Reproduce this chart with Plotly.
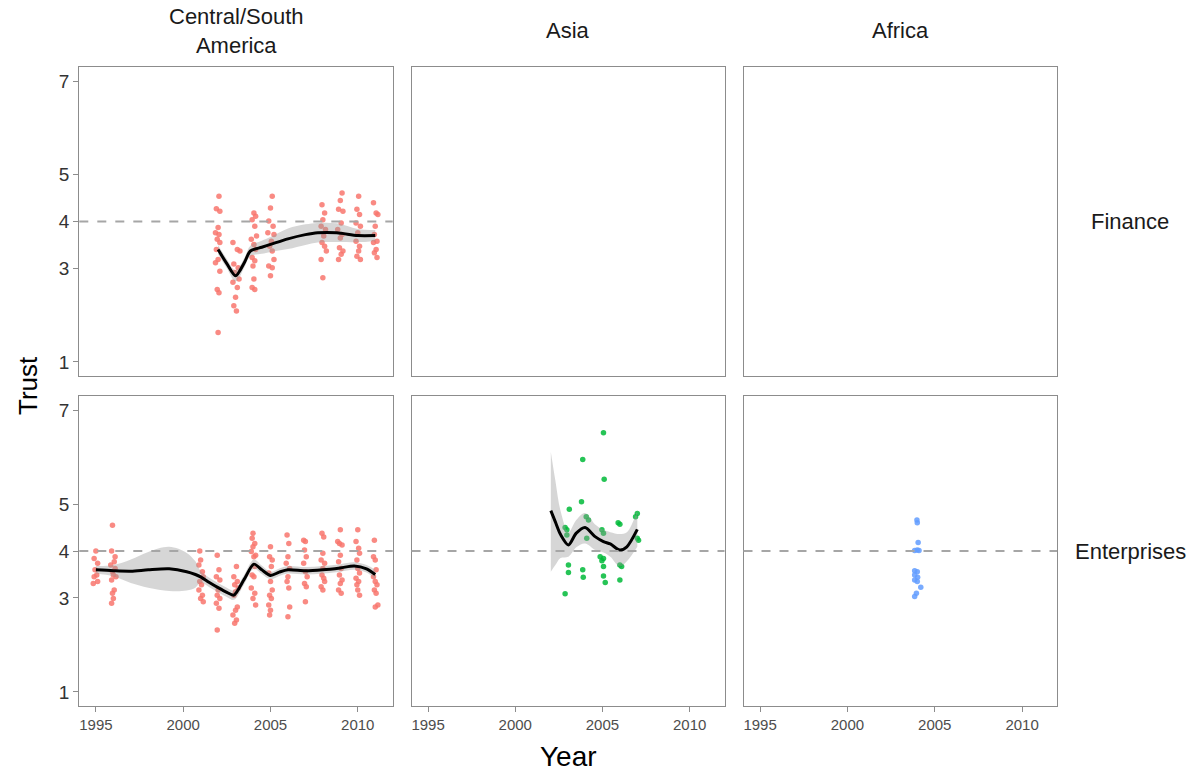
import plotly.graph_objects as go

# ---------------- data ----------------
regions = ["Central/South<br>America", "Asia", "Africa"]
sectors = ["Finance", "Enterprises"]
x_ticks = [1995, 2000, 2005, 2010]
y_ticks = [1, 3, 4, 5, 7]
reference_level = 4

# Finance, Central/South America
fin_csa_year = [2002.05, 2001.9, 2002.1, 2002.0, 2001.85, 2002.05, 2001.95, 2002.1, 2001.9, 2002.0, 2001.85, 2002.1, 2001.95, 2002.05, 2002.0,
                2002.85, 2003.1, 2003.25, 2002.9, 2003.15, 2002.95, 2003.2, 2002.85, 2003.1, 2003.0, 2002.9, 2003.05,
                2004.05, 2004.15, 2003.95, 2004.1, 2004.2, 2003.9, 2004.05, 2004.15, 2003.95, 2004.1, 2004.0, 2004.05, 2003.95, 2004.1,
                2005.1, 2005.0, 2004.9, 2005.15, 2004.85, 2005.2, 2005.05, 2004.95, 2005.1, 2005.2, 2004.9, 2005.1, 2005.0,
                2007.95, 2008.1, 2008.0, 2007.9, 2008.15, 2008.05, 2007.95, 2008.1, 2008.2, 2007.9, 2008.0,
                2009.1, 2009.0, 2008.9, 2009.15, 2009.05, 2008.85, 2009.1, 2009.0, 2008.95, 2009.15, 2009.05, 2008.9,
                2010.05, 2009.95, 2010.1, 2009.9, 2010.15, 2010.0, 2009.9, 2010.1, 2010.05, 2009.95, 2010.15,
                2010.9, 2011.05, 2011.15, 2011.0, 2010.95, 2011.1, 2010.9, 2011.05, 2010.95, 2011.1]
fin_csa_trust = [4.54, 4.27, 4.22, 3.87, 3.76, 3.72, 3.62, 3.55, 3.40, 3.19, 3.12, 2.94, 2.55, 2.48, 1.63,
                 3.55, 3.40, 3.37, 3.09, 3.01, 2.91, 2.77, 2.70, 2.59, 2.38, 2.20, 2.09,
                 4.18, 4.11, 4.04, 3.90, 3.69, 3.62, 3.51, 3.40, 3.23, 3.16, 3.05, 2.77, 2.59, 2.55,
                 4.54, 4.29, 4.01, 3.90, 3.76, 3.72, 3.58, 3.47, 3.37, 3.19, 3.05, 3.01, 2.84,
                 4.36, 4.18, 4.04, 3.90, 3.83, 3.69, 3.55, 3.47, 3.37, 3.19, 2.80,
                 4.61, 4.45, 4.26, 4.22, 3.97, 3.83, 3.72, 3.65, 3.44, 3.37, 3.30, 3.19,
                 4.54, 4.26, 4.15, 3.97, 3.90, 3.76, 3.58, 3.47, 3.37, 3.26, 3.19,
                 4.40, 4.18, 4.15, 3.90, 3.72, 3.58, 3.55, 3.40, 3.33, 3.23]

# Enterprises, Central/South America
ent_csa_year = [1995.0, 1994.9, 1995.1, 1994.95, 1995.05, 1994.9, 1995.1, 1994.85,
                1995.95, 1995.9, 1996.1, 1996.05, 1995.85, 1996.1, 1995.95, 1996.0, 1996.15, 1995.9, 1996.05, 1995.95, 1996.0, 1995.9,
                2000.95, 2001.0, 2000.9, 2001.1, 2001.15, 2000.95, 2001.05, 2000.9, 2001.1, 2001.0, 2001.15,
                2001.95, 2002.05, 2001.9, 2002.1, 2002.0, 2001.95, 2002.1, 2001.9, 2002.05, 2001.95,
                2003.05, 2002.9, 2003.1, 2002.95, 2003.15, 2003.0, 2002.9, 2003.1, 2003.0, 2002.85, 2003.05, 2002.95,
                2004.0, 2003.95, 2004.1, 2004.0, 2003.9, 2004.15, 2004.05, 2004.1, 2003.95, 2004.05, 2003.9, 2004.1, 2004.0, 2004.15,
                2005.0, 2004.95, 2005.1, 2005.05, 2004.9, 2005.0, 2005.1, 2004.95, 2005.05, 2004.9, 2005.0, 2004.95,
                2005.95, 2006.05, 2006.0, 2005.9, 2006.1, 2006.0, 2005.95, 2006.05, 2006.1, 2006.0,
                2006.9, 2007.0, 2006.95, 2007.05, 2006.9, 2007.0, 2007.1, 2006.95, 2007.05, 2007.0,
                2007.95, 2008.05, 2008.0, 2007.9, 2008.1, 2008.0, 2007.95, 2008.05, 2008.1, 2007.9, 2008.0,
                2009.0, 2008.85, 2008.95, 2009.1, 2009.0, 2008.9, 2009.05, 2008.95, 2009.1, 2009.0, 2008.9, 2009.05,
                2010.0, 2009.9, 2010.05, 2010.1, 2009.95, 2010.0, 2010.1, 2009.9, 2010.05, 2009.95, 2010.0, 2010.1,
                2010.95, 2010.9, 2011.0, 2011.05, 2010.9, 2011.0, 2011.1, 2010.95, 2011.05, 2011.15, 2011.0]
ent_csa_trust = [4.0, 3.84, 3.74, 3.60, 3.49, 3.45, 3.35, 3.31,
                 4.55, 4.0, 3.88, 3.77, 3.70, 3.63, 3.56, 3.49, 3.45, 3.38, 3.17, 3.10, 2.99, 2.89,
                 4.0, 3.81, 3.70, 3.56, 3.45, 3.35, 3.28, 3.17, 3.06, 2.99, 2.92,
                 3.91, 3.60, 3.45, 3.38, 3.17, 3.06, 2.99, 2.89, 2.78, 2.32,
                 3.67, 3.45, 3.35, 3.28, 3.21, 3.13, 3.06, 2.81, 2.74, 2.64, 2.53, 2.46,
                 4.38, 4.27, 4.16, 4.09, 3.99, 3.91, 3.88, 3.67, 3.49, 3.45, 3.21, 3.10, 2.99, 2.85,
                 4.09, 3.88, 3.81, 3.67, 3.53, 3.35, 3.17, 3.06, 2.99, 2.85, 2.74, 2.64,
                 4.34, 4.16, 3.88, 3.74, 3.63, 3.45, 3.35, 3.21, 2.81, 2.60,
                 4.23, 4.20, 4.02, 3.88, 3.74, 3.56, 3.45, 3.31, 3.24, 2.92,
                 4.38, 4.30, 3.95, 3.81, 3.74, 3.63, 3.49, 3.42, 3.35, 3.24, 3.17,
                 4.45, 4.20, 4.16, 4.13, 3.91, 3.77, 3.63, 3.49, 3.38, 3.31, 3.17, 3.10,
                 4.45, 4.20, 4.06, 3.95, 3.81, 3.63, 3.53, 3.42, 3.35, 3.28, 3.17, 3.06,
                 4.23, 3.88, 3.81, 3.60, 3.45, 3.35, 3.28, 3.17, 3.10, 2.85, 2.81]

# Enterprises, Asia
ent_asia_year = [2005.06, 2003.87, 2005.1, 2003.8, 2003.1, 2007.0, 2006.9, 2004.07, 2004.2, 2005.9, 2006.0,
                 2002.86, 2002.96, 2004.97, 2005.06, 2002.96, 2004.1, 2007.0, 2007.07, 2004.87, 2005.06,
                 2004.97, 2006.0, 2006.1, 2003.05, 2005.06, 2003.05, 2003.87, 2003.9, 2005.06, 2005.16, 2006.0, 2002.86]
ent_asia_trust = [6.52, 5.95, 5.53, 5.05, 4.89, 4.80, 4.73, 4.73, 4.66, 4.60, 4.57,
                  4.50, 4.45, 4.45, 4.38, 4.34, 4.27, 4.27, 4.23, 3.88, 3.84,
                  3.79, 3.70, 3.67, 3.70, 3.67, 3.54, 3.60, 3.44, 3.47, 3.33, 3.38, 3.09]

# Enterprises, Africa
ent_africa_year = [2003.98, 2004.0, 2004.05, 2003.85, 2004.0, 2004.1, 2003.85, 2004.0, 2003.85, 2004.02, 2003.85, 2004.0, 2004.2, 2003.95, 2003.85]
ent_africa_trust = [4.66, 4.60, 4.18, 4.01, 4.02, 4.01, 3.58, 3.56, 3.49, 3.44, 3.38, 3.35, 3.23, 3.10, 3.03]

# Smoothed trends (loess) with confidence band
fin_csa_fit_year = [2002.0, 2002.5, 2003.0, 2003.5, 2003.85, 2004.5, 2005.0, 2006.0, 2007.0, 2007.7, 2008.8, 2010.0, 2011.0]
fin_csa_fit = [3.40, 3.10, 2.84, 3.12, 3.37, 3.45, 3.51, 3.63, 3.72, 3.76, 3.76, 3.70, 3.70]
fin_csa_lo = [3.30, 3.00, 2.72, 3.02, 3.26, 3.31, 3.35, 3.41, 3.50, 3.55, 3.56, 3.56, 3.58]
fin_csa_hi = [3.50, 3.20, 2.96, 3.22, 3.48, 3.59, 3.67, 3.85, 3.94, 3.97, 3.96, 3.84, 3.82]

ent_csa_fit_year = [1995.0, 1996.0, 1997.0, 1998.0, 1999.2, 2000.2, 2000.7, 2001.0, 2001.5, 2002.0, 2002.5, 2002.9,
                    2003.5, 2004.05, 2004.5, 2005.0, 2005.5, 2006.0, 2007.0, 2008.0, 2009.0, 2009.8, 2010.5, 2011.0]
ent_csa_fit = [3.60, 3.58, 3.57, 3.60, 3.62, 3.56, 3.50, 3.45, 3.33, 3.22, 3.12, 3.06,
               3.40, 3.72, 3.60, 3.48, 3.55, 3.60, 3.58, 3.60, 3.64, 3.68, 3.62, 3.50]
ent_csa_lo = [3.52, 3.46, 3.32, 3.22, 3.15, 3.16, 3.22, 3.33, 3.23, 3.12, 3.02, 2.96,
              3.30, 3.62, 3.51, 3.40, 3.47, 3.52, 3.50, 3.52, 3.56, 3.60, 3.54, 3.40]
ent_csa_hi = [3.68, 3.70, 3.82, 3.98, 4.09, 3.96, 3.78, 3.57, 3.43, 3.32, 3.22, 3.16,
              3.50, 3.82, 3.69, 3.56, 3.63, 3.68, 3.66, 3.68, 3.72, 3.76, 3.70, 3.60]

ent_asia_fit_year = [2002.04, 2002.3, 2002.6, 2003.05, 2003.5, 2004.0, 2004.6, 2005.06, 2005.45, 2006.0, 2006.4, 2007.0]
ent_asia_fit = [4.86, 4.62, 4.35, 4.13, 4.38, 4.50, 4.30, 4.20, 4.15, 4.02, 4.09, 4.46]
ent_asia_lo = [3.56, 3.70, 3.85, 3.88, 4.08, 4.16, 4.02, 3.97, 3.88, 3.67, 3.78, 4.09]
ent_asia_hi = [6.11, 5.50, 4.85, 4.40, 4.66, 4.81, 4.56, 4.45, 4.40, 4.36, 4.40, 4.87]

# ---------------- figure ----------------
W, H = 1191, 771
col_px = [(79.3, 392.7), (411.5, 724.5), (743.5, 1057.0)]
row_px = [(67, 376), (396, 706)]
x_range = [1994.05, 2012.0]
y_range = [0.7, 7.3]

FONT = "Liberation Sans, Arial, Helvetica, sans-serif"
red, green, blue = "#F8766D", "#00BA38", "#619CFF"
border = "#8C8C8C"

fig = go.Figure()
layout = dict(width=W, height=H, margin=dict(l=0, r=0, t=0, b=0),
              paper_bgcolor="white", plot_bgcolor="white", showlegend=False,
              font=dict(family=FONT, color="#1A1A1A"))

def ax_id(r, c):
    return r * 3 + c + 1

for r in range(2):
    for c in range(3):
        i = ax_id(r, c)
        sx = "" if i == 1 else str(i)
        x0, x1 = col_px[c]
        y0, y1 = row_px[r]
        layout["xaxis" + sx] = dict(
            domain=[x0 / W, x1 / W], anchor="y" + sx, range=x_range,
            showgrid=False, zeroline=False, showline=True, mirror=True,
            linecolor=border, linewidth=1.2, tickvals=x_ticks,
            ticks="outside" if r == 1 else "", ticklen=5, tickwidth=1.2, tickcolor=border,
            showticklabels=(r == 1), tickfont=dict(size=15, color="#4D4D4D", family=FONT))
        layout["yaxis" + sx] = dict(
            domain=[1 - y1 / H, 1 - y0 / H], anchor="x" + sx, range=y_range,
            showgrid=False, zeroline=False, showline=True, mirror=True,
            linecolor=border, linewidth=1.2, tickvals=y_ticks,
            ticks="outside" if c == 0 else "", ticklen=5, tickwidth=1.2, tickcolor=border,
            showticklabels=(c == 0), tickfont=dict(size=19, color="#333333", family=FONT))

fig.update_layout(**layout)

def axes(r, c):
    i = ax_id(r, c)
    sx = "" if i == 1 else str(i)
    return "x" + sx, "y" + sx

# empty placeholder traces so that every panel (also the empty ones) is drawn
for r in range(2):
    for c in range(3):
        xa, ya = axes(r, c)
        fig.add_trace(go.Scatter(x=[], y=[], mode="markers", xaxis=xa, yaxis=ya, hoverinfo="skip"))

def add_points(r, c, xs, ys, color):
    xa, ya = axes(r, c)
    fig.add_trace(go.Scatter(x=xs, y=ys, mode="markers", xaxis=xa, yaxis=ya,
                             marker=dict(size=5.5, color=color, opacity=0.85, line=dict(width=0)),
                             hoverinfo="skip"))

def add_smooth(r, c, xs, fit, lo, hi):
    xa, ya = axes(r, c)
    fig.add_trace(go.Scatter(x=xs, y=lo, mode="lines", xaxis=xa, yaxis=ya,
                             line=dict(width=0, shape="spline"), hoverinfo="skip"))
    fig.add_trace(go.Scatter(x=xs, y=hi, mode="lines", xaxis=xa, yaxis=ya, fill="tonexty",
                             fillcolor="rgba(153,153,153,0.4)",
                             line=dict(width=0, shape="spline"), hoverinfo="skip"))
    fig.add_trace(go.Scatter(x=xs, y=fit, mode="lines", xaxis=xa, yaxis=ya,
                             line=dict(color="black", width=3, shape="spline", smoothing=0.8),
                             hoverinfo="skip"))

def add_ref(r, c):
    xa, ya = axes(r, c)
    fig.add_shape(type="line", xref=xa + " domain", yref=ya, x0=0, x1=1,
                  y0=reference_level, y1=reference_level,
                  line=dict(color="#A6A6A6", width=1.8, dash="dash"))

add_points(0, 0, fin_csa_year, fin_csa_trust, red)
add_smooth(0, 0, fin_csa_fit_year, fin_csa_fit, fin_csa_lo, fin_csa_hi)
add_points(1, 0, ent_csa_year, ent_csa_trust, red)
add_smooth(1, 0, ent_csa_fit_year, ent_csa_fit, ent_csa_lo, ent_csa_hi)
add_points(1, 1, ent_asia_year, ent_asia_trust, green)
add_smooth(1, 1, ent_asia_fit_year, ent_asia_fit, ent_asia_lo, ent_asia_hi)
add_points(1, 2, ent_africa_year, ent_africa_trust, blue)

for rc in [(0, 0), (1, 0), (1, 1), (1, 2)]:
    add_ref(*rc)

# Strip labels (top)
for c, name in enumerate(regions):
    x0, x1 = col_px[c]
    fig.add_annotation(x=(x0 + x1) / 2 / W, y=1 - 31 / H, xref="paper", yref="paper",
                       text=name, showarrow=False, xanchor="center", yanchor="middle",
                       font=dict(size=22, color="#1A1A1A", family=FONT))
# Strip labels (right)
for r, name in enumerate(sectors):
    y0, y1 = row_px[r]
    fig.add_annotation(x=1130 / W, y=1 - (y0 + y1) / 2 / H, xref="paper", yref="paper",
                       text=name, showarrow=False, xanchor="center", yanchor="middle",
                       font=dict(size=22, color="#1A1A1A", family=FONT))

# Axis titles
fig.add_annotation(x=(col_px[0][0] + col_px[2][1]) / 2 / W, y=1 - 756 / H, xref="paper", yref="paper",
                   text="Year", showarrow=False, xanchor="center", yanchor="middle",
                   font=dict(size=28, color="black", family=FONT))
fig.add_annotation(x=28 / W, y=1 - 386 / H, xref="paper", yref="paper",
                   text="Trust", showarrow=False, textangle=-90, xanchor="center", yanchor="middle",
                   font=dict(size=26, color="black", family=FONT))

fig.write_html("out.html")
